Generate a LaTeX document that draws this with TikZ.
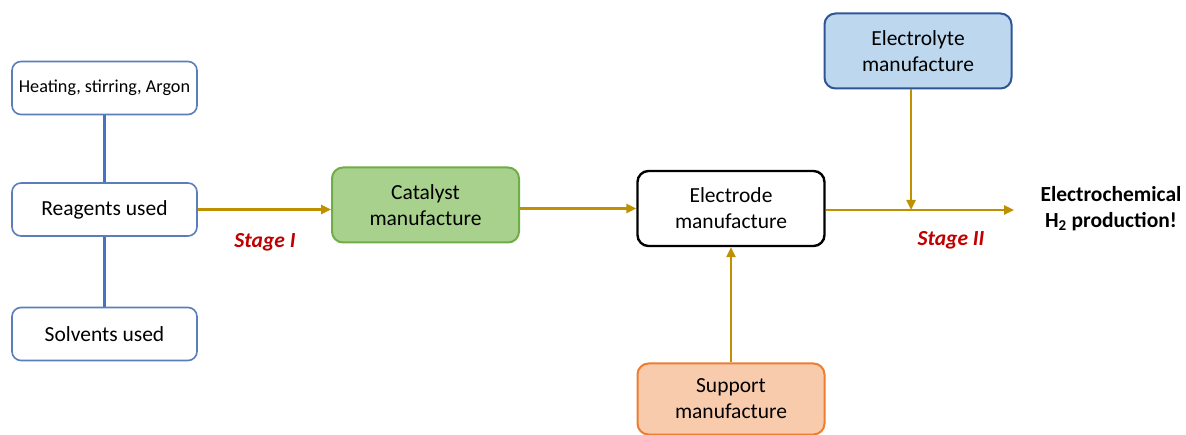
\documentclass[tikz,border=0pt]{standalone}
\usepackage{fontspec}
\setmainfont{Carlito}
\usetikzlibrary{arrows.meta,calc}
\definecolor{gold}{HTML}{BF9000}
\definecolor{boxblue}{HTML}{5B7DB9}
\definecolor{linkblue}{HTML}{4472C4}
\definecolor{stagered}{HTML}{C00000}
\definecolor{greenfill}{HTML}{A9D18E}
\definecolor{greenline}{HTML}{70AD47}
\definecolor{bluefill}{HTML}{BDD7EE}
\definecolor{blueline}{HTML}{2F5597}
\definecolor{orangefill}{HTML}{F8CBAD}
\definecolor{orangeline}{HTML}{ED7D31}
\begin{document}
\begin{tikzpicture}[x=1pt,y=-1pt,
  inbox/.style={draw=boxblue,line width=1.6pt,rounded corners=9pt,fill=white,
    minimum width=185pt,minimum height=53pt,inner sep=0pt,font=\fontsize{21.5}{25}\selectfont},
  procbox/.style={rounded corners=11pt,line width=2pt,minimum width=187pt,minimum height=75pt,
    inner sep=0pt,align=center,font=\fontsize{21.5}{26}\selectfont},
  arr/.style={draw=gold,line width=2.4pt,-{Triangle[length=10pt,width=9pt]}},
  link/.style={draw=linkblue,line width=2.4pt},
  stagelbl/.style={text=stagered,font=\fontsize{21.5}{25}\selectfont\bfseries\itshape}
]
\useasboundingbox (0,0) rectangle (1186,435);

\node[inbox,font=\fontsize{18.2}{21}\selectfont] (heat) at (104.5,88) {Heating, stirring, Argon};
\node[inbox] (rea) at (104.5,209.5) {Reagents used};
\node[inbox] (sol) at (104.5,334) {Solvents used};

\node[procbox,draw=greenline,fill=greenfill] (cat) at (425.5,205) {Catalyst\\manufacture};
\node[procbox,draw=black,fill=white,line width=2.4pt] (ele) at (731,208.5) {Electrode\\manufacture};
\node[procbox,draw=blueline,fill=bluefill] (ely) at (918,51) {Electrolyte\\manufacture};
\node[procbox,draw=orangeline,fill=orangefill,minimum height=71pt] (sup) at (731,399) {Support\\manufacture};

\node[align=center,font=\fontsize{21.5}{26}\selectfont\bfseries] (out) at (1111,209) {Electrochemical\\H\textsubscript{2} production!};

\node[stagelbl] (s1) at (265,242) {Stage I};
\node[stagelbl] (s2) at (951,240) {Stage II};

\coordinate (j) at (911,210);
\coordinate (tip) at (1014,210);

\draw[link] (heat.south) -- (rea.north);
\draw[link] (rea.south) -- (sol.north);

\draw[arr] (rea.east) -- (rea.east -| cat.west);
\draw[arr] (cat.east |- ele.west) -- (ele.west);
\draw[arr] (ele.east |- tip) -- (tip);
\draw[arr] (ely.south -| j) -- (j);
\draw[arr] (sup.north) -- (ele.south);
\end{tikzpicture}
\end{document}
